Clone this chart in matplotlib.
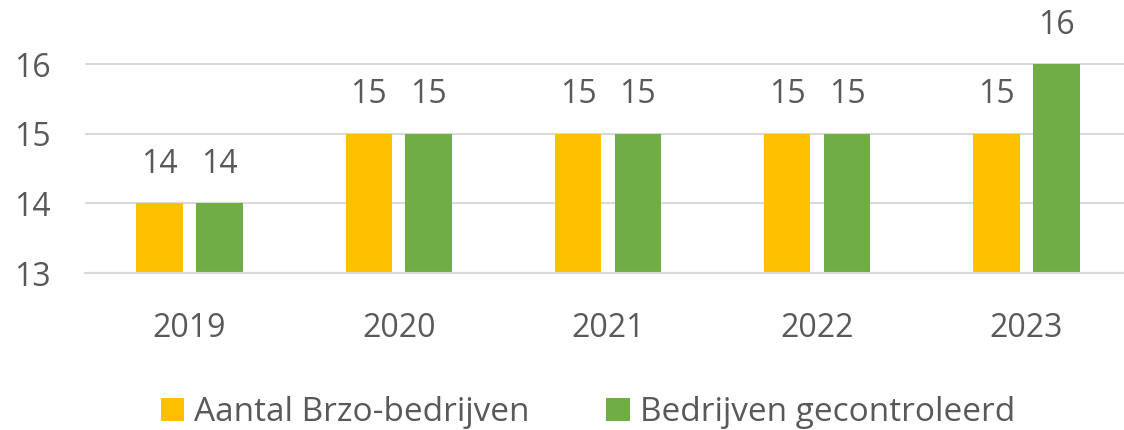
import matplotlib.pyplot as plt
import numpy as np

years = ['2019', '2020', '2021', '2022', '2023']
aantal = [14, 15, 15, 15, 15]
gecontroleerd = [14, 15, 15, 15, 16]
labels = ['Aantal Brzo-bedrijven', 'Bedrijven gecontroleerd']

plt.rcParams['font.family'] = ['Open Sans', 'DejaVu Sans']
txt = '#595959'

fig = plt.figure(figsize=(11.24, 4.3), dpi=100)
ax = fig.add_axes([0.0756, 0.365, 0.9306, 0.583])

x = np.arange(len(years))
w = 0.222
off = 0.143
b1 = ax.bar(x - off, np.array(aantal) - 13, w, bottom=13, color='#FFC000', label=labels[0], zorder=2)
b2 = ax.bar(x + off, np.array(gecontroleerd) - 13, w, bottom=13, color='#70AD47', label=labels[1], zorder=2)

for bars, vals in [(b1, aantal), (b2, gecontroleerd)]:
    for rect, v in zip(bars, vals):
        ax.text(rect.get_x() + rect.get_width() / 2, v + 0.32, str(v),
                ha='center', va='bottom', fontsize=23, color=txt)

ax.set_xlim(-0.5, 4.5)
ax.set_ylim(13, 16.6)
ax.set_yticks([13, 14, 15, 16])
ax.set_xticks(x)
ax.set_xticklabels(years)
ax.yaxis.grid(True, color='#D9D9D9', linewidth=1.5, zorder=0)
ax.set_axisbelow(True)
for s in ['top', 'right', 'left']:
    ax.spines[s].set_visible(False)
ax.spines['bottom'].set_color('#D9D9D9')
ax.spines['bottom'].set_linewidth(1.5)
ax.tick_params(axis='both', length=0, labelsize=23, colors=txt)
ax.tick_params(axis='x', pad=28)
ax.tick_params(axis='y', pad=25)

fig.legend(loc='lower center', bbox_to_anchor=(0.523, -0.068), ncol=2, frameon=False,
           fontsize=24, labelcolor=txt, handlelength=0.7, handleheight=0.7,
           handletextpad=0.3, columnspacing=2.3)

plt.savefig('out.png', dpi=100)
